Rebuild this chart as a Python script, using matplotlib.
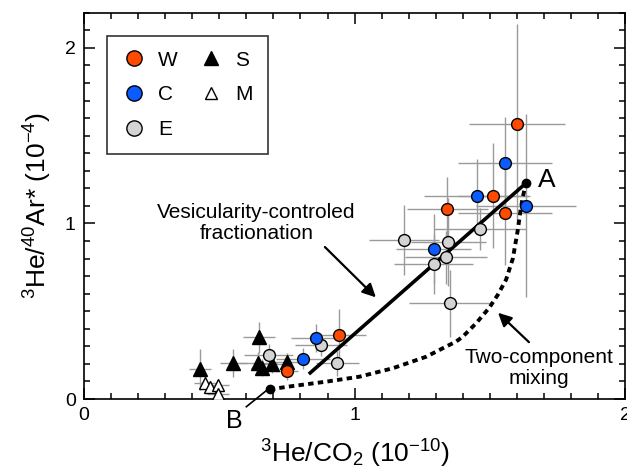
import matplotlib
matplotlib.use("Agg")
import matplotlib.pyplot as plt
from matplotlib.lines import Line2D
from matplotlib.ticker import MultipleLocator
import numpy as np

plt.rcParams['font.family'] = ['Liberation Sans', 'DejaVu Sans']
plt.rcParams['mathtext.fontset'] = 'custom'
plt.rcParams['mathtext.rm'] = 'Liberation Sans'
plt.rcParams['mathtext.it'] = 'Liberation Sans:italic'

# W (orange circles)
w_x = [1.600, 1.512, 1.556, 1.343, 0.942, 0.751]
w_y = [1.567, 1.159, 1.062, 1.084, 0.363, 0.160]
w_xe = [0.178, 0.13, 0.175, 0.15, 0.10, 0.04]
w_ye = [0.57, 0.30, 0.30, 0.18, 0.15, 0.05]

# C (blue circles)
c_x = [1.556, 1.453, 1.633, 1.292, 0.856, 0.809]
c_y = [1.346, 1.157, 1.101, 0.855, 0.346, 0.230]
c_xe = [0.174, 0.197, 0.185, 0.14, 0.09, 0.10]
c_ye = [0.26, 0.21, 0.52, 0.20, 0.08, 0.06]

# E (grey circles)
e_x = [1.462, 1.183, 1.347, 1.338, 1.292, 1.353, 0.876, 0.936, 0.683]
e_y = [0.967, 0.906, 0.893, 0.807, 0.769, 0.545, 0.306, 0.203, 0.253]
e_xe = [0.17, 0.13, 0.14, 0.15, 0.145, 0.15, 0.095, 0.08, 0.09]
e_ye = [0.12, 0.20, 0.25, 0.15, 0.17, 0.19, 0.06, 0.07, 0.06]

# S (filled triangles)
s_x = [0.428, 0.551, 0.647, 0.643, 0.658, 0.695, 0.751]
s_y = [0.169, 0.207, 0.351, 0.207, 0.179, 0.199, 0.213]
s_xe = [0.04, 0.05, 0.06, 0.07, 0.04, 0.05, 0.05]
s_ye = [0.115, 0.08, 0.09, 0.06, 0.05, 0.05, 0.05]

# M (open triangles)
m_x = [0.446, 0.467, 0.496, 0.496]
m_y = [0.093, 0.070, 0.080, 0.028]
m_xe = [0.04, 0.04, 0.04, 0.04]
m_ye = [0.03, 0.03, 0.03, 0.03]

# end members and model lines
end_a = (1.633, 1.229)
end_b = (0.686, 0.055)
frac_x = [0.831, 1.633]
frac_y = [0.142, 1.229]
mix_x = [0.686, 0.772, 0.896, 1.018, 1.141, 1.265, 1.326, 1.375, 1.400, 1.449,
         1.498, 1.530, 1.560, 1.585, 1.603, 1.613, 1.621, 1.633]
mix_y = [0.055, 0.074, 0.099, 0.127, 0.175, 0.241, 0.289, 0.327, 0.355, 0.431,
         0.520, 0.595, 0.680, 0.800, 0.960, 1.070, 1.144, 1.229]

orange = '#ff4a00'
blue = '#0a5cff'
grey = '#d4d4d4'
ecol = '#9a9a9a'

fig = plt.figure(figsize=(6.27, 4.75), dpi=100)
ax = fig.add_axes([0.134, 0.16, 0.863, 0.813])

# error bars first
for xs, ys, xe, ye in [(w_x, w_y, w_xe, w_ye), (c_x, c_y, c_xe, c_ye),
                       (e_x, e_y, e_xe, e_ye), (s_x, s_y, s_xe, s_ye),
                       (m_x, m_y, m_xe, m_ye)]:
    ax.errorbar(xs, ys, xerr=xe, yerr=ye, fmt='none', ecolor=ecol,
                elinewidth=1.0, capsize=0, zorder=1)

ax.plot(frac_x, frac_y, color='k', lw=2.6, solid_capstyle='butt', zorder=2)
ax.plot(mix_x, mix_y, color='k', lw=2.8, linestyle=(0, (1.4, 1.1)), zorder=2)
ax.plot(*end_a, 'o', color='k', ms=6, zorder=2)
ax.plot(*end_b, 'o', color='k', ms=6, zorder=2)

ax.plot(s_x, s_y, '^', ms=10, mfc='k', mec='k', mew=1, ls='none', zorder=3)
ax.plot(m_x, m_y, '^', ms=9, mfc='white', mec='k', mew=1, ls='none', zorder=3)
ax.plot(e_x, e_y, 'o', ms=8.5, mfc=grey, mec='k', mew=1, ls='none', zorder=4)
ax.plot(c_x, c_y, 'o', ms=8.5, mfc=blue, mec='k', mew=1, ls='none', zorder=4)
ax.plot(w_x, w_y, 'o', ms=8.5, mfc=orange, mec='k', mew=1, ls='none', zorder=4)

# annotations
ax.text(0.637, 1.003, 'Vesicularity-controled\nfractionation', ha='center',
        va='center', fontsize=15, linespacing=1.1)
ax.annotate('', xy=(1.086, 0.568), xytext=(0.883, 0.877),
            arrowprops=dict(arrowstyle='-|>', color='k', lw=1.6, mutation_scale=20))
ax.text(1.681, 0.177, 'Two-component\nmixing', ha='center', va='center',
        fontsize=15, linespacing=1.1)
ax.annotate('', xy=(1.523, 0.502), xytext=(1.652, 0.313),
            arrowprops=dict(arrowstyle='-|>', color='k', lw=1.6, mutation_scale=20))
ax.text(1.710, 1.250, 'A', ha='center', va='center', fontsize=19)
ax.text(0.557, -0.125, 'B', ha='center', va='center', fontsize=18, clip_on=False)
ax.plot([0.600, 0.683], [-0.044, 0.059], color='k', lw=1.2, clip_on=False)

ax.set_xlim(0, 2)
ax.set_ylim(0, 2.2)
ax.xaxis.set_major_locator(MultipleLocator(1))
ax.xaxis.set_minor_locator(MultipleLocator(0.1))
ax.yaxis.set_major_locator(MultipleLocator(1))
ax.yaxis.set_minor_locator(MultipleLocator(0.1))
ax.tick_params(which='both', direction='in', top=True, right=True, width=1.1)
ax.tick_params(which='major', length=8, labelsize=14, pad=6)
ax.tick_params(which='minor', length=4.5)
for s in ax.spines.values():
    s.set_linewidth(1.2)

ax.set_xlabel(r'$^{3}$He/CO$_{2}$ (10$^{-10}$)', fontsize=19, labelpad=10)
ax.set_ylabel(r'$^{3}$He/$^{40}$Ar* (10$^{-4}$)', fontsize=19, labelpad=8)

handles = [
    Line2D([], [], marker='o', ls='none', ms=11, mfc=orange, mec='k', mew=1),
    Line2D([], [], marker='o', ls='none', ms=11, mfc=blue, mec='k', mew=1),
    Line2D([], [], marker='o', ls='none', ms=11, mfc=grey, mec='k', mew=1),
    Line2D([], [], marker='^', ls='none', ms=10, mfc='k', mec='k', mew=1),
    Line2D([], [], marker='^', ls='none', ms=9, mfc='white', mec='k', mew=1),
]
leg = ax.legend(handles, ['W', 'C', 'E', 'S', 'M'], ncol=2, loc='upper left',
                bbox_to_anchor=(0.042, 0.941), borderaxespad=0, fontsize=15,
                frameon=True, fancybox=False, edgecolor='k', handlelength=1.2,
                handletextpad=0.55, columnspacing=1.0, labelspacing=0.76,
                borderpad=0.72)
leg.get_frame().set_linewidth(1.2)

fig.savefig('out.png', dpi=100)
